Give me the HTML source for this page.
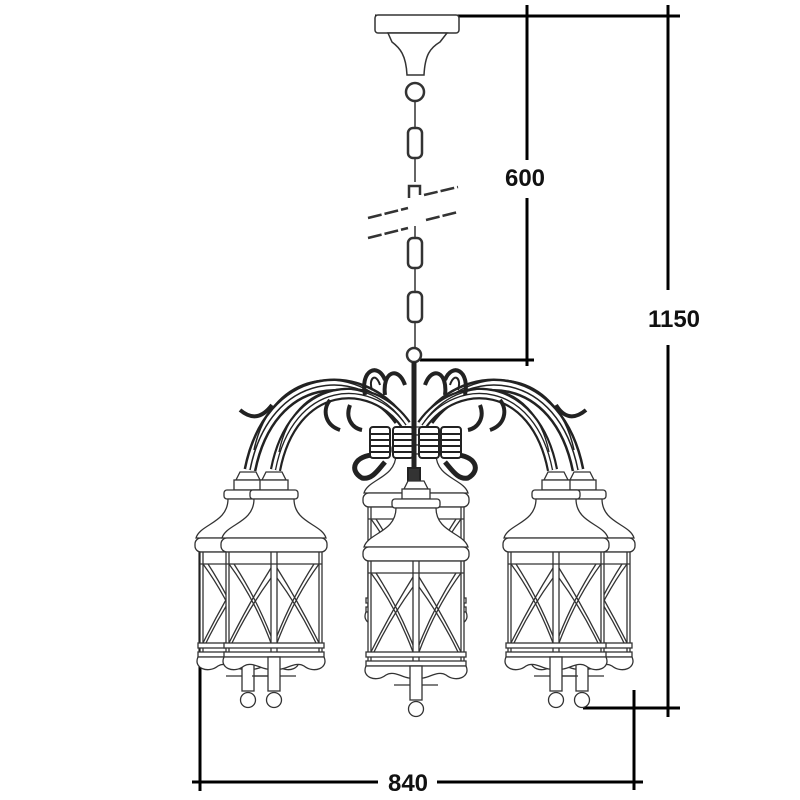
<!DOCTYPE html>
<html><head><style>
html,body{margin:0;padding:0;background:#fff;width:800px;height:800px;overflow:hidden}
svg{display:block}
text{font-family:"Liberation Sans",Arial,sans-serif;font-weight:bold;fill:#111}
</style></head><body>
<svg width="800" height="800" viewBox="0 0 800 800" xmlns="http://www.w3.org/2000/svg">
<defs>
<g id="lan" stroke="#333" stroke-width="1.3" fill="#fff">
  <path d="M-8,-66 L8,-66 L12,-58 L-12,-58 Z"/>
  <rect x="-14" y="-58" width="28" height="10"/>
  <rect x="-24" y="-48" width="48" height="9" rx="3"/>
  <path d="M-20,-39 C-20,-15 -48,-14 -52,0 L52,0 C48,-14 20,-15 20,-39 Z"/>
  <rect x="-53" y="0" width="106" height="14" rx="6"/>
  <rect x="-48" y="14" width="96" height="104"/>
  <line x1="-45" y1="14" x2="-45" y2="118"/>
  <line x1="45" y1="14" x2="45" y2="118"/>
  <line x1="-3" y1="14" x2="-3" y2="118"/>
  <line x1="3" y1="14" x2="3" y2="118"/>
  <line x1="-48" y1="26" x2="48" y2="26"/>
  <path d="M-45,26 Q-20,60 -3,105 M-40,26 Q-18,60 -3,98 M-3,30 Q-25,65 -45,105 M-3,40 Q-25,70 -42,105" fill="none"/>
  <path d="M45,26 Q20,60 3,105 M40,26 Q18,60 3,98 M3,30 Q25,65 45,105 M3,40 Q25,70 42,105" fill="none"/>
  <rect x="-50" y="105" width="100" height="5"/>
  <rect x="-50" y="114" width="100" height="5"/>
  <path d="M-50,119 C-55,130 -40,136 -30,128 C-20,122 -10,135 0,130 C10,135 20,122 30,128 C40,136 55,130 50,119 Z"/>
  <path d="M-22,138 L22,138" />
  <rect x="-6" y="119" width="12" height="34"/>
  <circle cx="0" cy="162" r="7.5"/>
</g>
<g id="arm" fill="none" stroke="#222">
  <path d="M0,0 C-40,-55 -130,-50 -150,50" stroke-width="13"/>
  <path d="M0,0 C-40,-55 -130,-50 -150,50" stroke-width="8" stroke="#fff"/>
  <path d="M0,0 C-40,-55 -130,-50 -150,50" stroke-width="1.5"/>
  <path d="M-3,-4 C-43,-58 -128,-55 -146,30" stroke-width="1.5"/>
</g>
</defs>

<!-- dimension lines -->
<g stroke="#000" stroke-width="3" fill="none">
  <line x1="375" y1="16" x2="680" y2="16"/>
  <line x1="527" y1="5" x2="527" y2="160"/>
  <line x1="527" y1="198" x2="527" y2="366"/>
  <line x1="420" y1="360" x2="534" y2="360"/>
  <line x1="668" y1="5" x2="668" y2="290"/>
  <line x1="668" y1="345" x2="668" y2="717"/>
  <line x1="583" y1="708" x2="680" y2="708"/>
  <line x1="634" y1="690" x2="634" y2="790"/>
  <line x1="200" y1="545" x2="200" y2="791"/>
  <line x1="192" y1="782" x2="378" y2="782"/>
  <line x1="437" y1="782" x2="643" y2="782"/>
</g>
<text x="525" y="186" font-size="24" text-anchor="middle">600</text>
<text x="674" y="327" font-size="24" text-anchor="middle">1150</text>
<text x="408" y="791" font-size="24" text-anchor="middle">840</text>

<!-- ceiling plate -->
<g stroke="#333" stroke-width="1.5" fill="#fff">
  <rect x="375" y="15" width="84" height="18" rx="3"/>
  <path d="M388,33 L447,33 L440,42 C430,48 425,55 424,75 L407,75 C406,55 400,48 392,42 Z"/>
  <circle cx="415" cy="92" r="9" stroke-width="2.5"/>
  <line x1="415" y1="101" x2="415" y2="128"/>
  <rect x="408" y="128" width="14" height="30" rx="5" stroke-width="2.5"/>
  <line x1="415" y1="158" x2="415" y2="182"/>
  <path d="M409,198 L409,186 L420,186 L420,195" fill="none" stroke-width="2.5"/>
  <line x1="415" y1="226" x2="415" y2="238"/>
  <rect x="408" y="238" width="14" height="30" rx="5" stroke-width="2.5"/>
  <line x1="415" y1="268" x2="415" y2="292"/>
  <rect x="408" y="292" width="14" height="30" rx="5" stroke-width="2.5"/>
  <line x1="415" y1="322" x2="415" y2="348"/>
  <circle cx="414" cy="355" r="7" stroke-width="2.5"/>
</g>
<g stroke="#333" stroke-width="2.5" stroke-dasharray="14,3">
  <line x1="368" y1="218" x2="408" y2="208"/>
  <line x1="424" y1="195" x2="458" y2="187"/>
  <line x1="368" y1="238" x2="408" y2="228"/>
  <line x1="426" y1="220" x2="458" y2="212"/>
</g>

<!-- back lanterns -->
<use href="#lan" x="248" y="538"/>
<use href="#lan" x="582" y="538"/>
<use href="#lan" x="416" y="493"/>

<!-- arms -->
<use href="#arm" x="400" y="420"/>
<use href="#arm" x="406" y="425" transform="translate(406,425) scale(0.87,0.9) translate(-406,-425)"/>
<use href="#arm" x="0" y="0" transform="translate(428,420) scale(-1,1)"/>
<use href="#arm" x="0" y="0" transform="translate(422,425) scale(-0.87,0.9)"/>
<g fill="none" stroke="#222">
  <path d="M240,410 C252,420 262,418 272,405 M586,410 C574,420 564,418 556,405" stroke-width="4"/>
  <path d="M330,400 C322,410 325,425 340,430 M350,405 C345,418 352,428 362,430 M500,400 C508,410 505,425 490,430 M480,405 C485,418 478,428 468,430" stroke-width="4"/>
  <path d="M365,395 C360,370 378,362 385,380 M385,395 C382,372 398,365 405,385 M465,395 C470,370 452,362 445,380 M445,395 C448,372 432,365 425,385" stroke-width="4"/>
  <path d="M372,390 C368,378 376,372 380,385 M458,390 C462,378 454,372 450,385" stroke-width="2"/>
  <path d="M375,455 C355,455 348,470 362,478 C372,480 378,470 385,462 M455,455 C475,455 482,470 468,478 C458,480 452,470 445,462" stroke-width="5"/>
</g>
<!-- coil blocks -->
<g stroke="#222" stroke-width="2" fill="#fff">
  <rect x="370" y="427" width="20" height="31" rx="3"/>
  <rect x="393" y="427" width="20" height="31" rx="3"/>
  <rect x="419" y="427" width="20" height="31" rx="3"/>
  <rect x="441" y="427" width="20" height="31" rx="3"/>
  <path d="M370,434h20M370,440h20M370,446h20M370,452h20M393,434h20M393,440h20M393,446h20M393,452h20M419,434h20M419,440h20M419,446h20M419,452h20M441,434h20M441,440h20M441,446h20M441,452h20"/>
  <line x1="414" y1="362" x2="414" y2="480" stroke-width="5"/>
  <rect x="408" y="468" width="12" height="20" fill="#333"/>
</g>

<!-- front lanterns -->
<use href="#lan" x="274" y="538"/>
<use href="#lan" x="556" y="538"/>
<use href="#lan" x="416" y="547"/>
</svg>
</body></html>
